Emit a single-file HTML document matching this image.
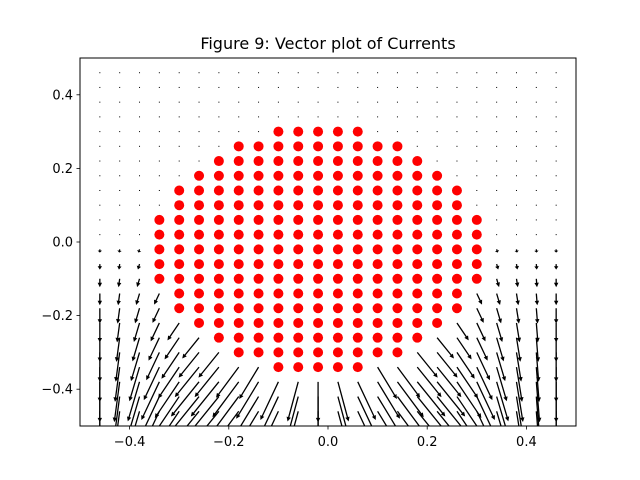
<!DOCTYPE html>
<html><head><meta charset="utf-8"><style>
body{margin:0;background:#fff}
svg{display:block;font-family:"DejaVu Sans","Liberation Sans",sans-serif}
</style></head><body>
<svg id="c" width="640" height="480">
<defs><clipPath id="clip"><rect x="80" y="58" width="496" height="368"/></clipPath></defs>
<rect x="0" y="0" width="640" height="480" fill="#fff"/>
<text x="328" y="49" text-anchor="middle" font-size="16">Figure 9: Vector plot of Currents</text>
<g id="arrows" clip-path="url(#clip)"></g>
<g id="dots"></g>
<rect x="80" y="58" width="496" height="368" fill="none" stroke="#000" stroke-width="1"/>
<g id="axes"></g>
</svg>
<script>
const gridX = [-0.46,-0.42,-0.38,-0.34,-0.30,-0.26,-0.22,-0.18,-0.14,-0.10,-0.06,-0.02,0.02,0.06,0.10,0.14,0.18,0.22,0.26,0.30,0.34,0.38,0.42,0.46];
const gridY = [-0.46,-0.42,-0.38,-0.34,-0.30,-0.26,-0.22,-0.18,-0.14,-0.10,-0.06,-0.02,0.02,0.06,0.10,0.14,0.18,0.22,0.26,0.30,0.34,0.38,0.42,0.46];
const colDir = [0,-0.1,-0.22,-0.35,-0.5,-0.6,-0.6,-0.55,-0.45,-0.35,-0.2,0,0.2,0.35,0.45,0.55,0.6,0.6,0.5,0.35,0.22,0.12,0.06,0];
const rowMag = [0.14,0.125,0.11,0.095,0.08,0.066,0.053,0.042,0.032,0.023,0.015,0.009,0.004,0.002,0.001,0.0008,0.0006,0.0005,0.0004,0.0003,0.0003,0.0003,0.0003,0.0003];
const dotRowY = [0.30,0.26,0.22,0.18,0.14,0.10,0.06,0.02,-0.02,-0.06,-0.10,-0.14,-0.18,-0.22,-0.26,-0.30,-0.34];
const dotRowXMin = [-0.10,-0.18,-0.22,-0.26,-0.30,-0.30,-0.34,-0.34,-0.34,-0.34,-0.34,-0.30,-0.30,-0.26,-0.22,-0.18,-0.10];
const dotRowXMax = [0.06,0.14,0.18,0.22,0.26,0.26,0.30,0.30,0.30,0.30,0.30,0.26,0.26,0.22,0.18,0.14,0.06];
const xTicks = [-0.4,-0.2,0.0,0.2,0.4];
const yTicks = [-0.4,-0.2,0.0,0.2,0.4];

const X = v => 328 + v*496;
const Y = v => 242 - v*368;
const NS = "http://www.w3.org/2000/svg";
function mk(t, a){const e=document.createElementNS(NS,t);for(const k in a)e.setAttribute(k,a[k]);return e;}
function isDot(x, y){
  for (let i=0;i<dotRowY.length;i++){
    if (Math.abs(dotRowY[i]-y)<1e-6 && x>=dotRowXMin[i]-1e-6 && x<=dotRowXMax[i]+1e-6) return true;
  }
  return false;
}

const ag = document.getElementById('arrows');
gridY.forEach((gy, r) => {
  gridX.forEach((gx, c) => {
    const m = isDot(gx, gy) ? 0 : rowMag[r];
    const d = colDir[c];
    const n = Math.sqrt(1 + d*d);
    const vx = m*d/n, vy = -m/n;
    const x0 = X(gx), y0 = Y(gy);
    const x1 = X(gx+vx), y1 = Y(gy+vy);
    const L = Math.hypot(x1-x0, y1-y0);
    let el;
    if (L < 2) {
      el = mk('rect', {x: x0-0.5, y: y0-0.5, width: 1, height: 1, fill: '#000'});
    } else {
      const ux = (x1-x0)/L, uy = (y1-y0)/L, px = -uy, py = ux;
      const hl = Math.min(4.5, L*0.6), hw = 2.2, sw = 0.65;
      const bx = x1-ux*hl, by = y1-uy*hl;
      const pts = [[x0+px*sw,y0+py*sw],[bx+px*sw,by+py*sw],[bx+px*hw,by+py*hw],[x1,y1],[bx-px*hw,by-py*hw],[bx-px*sw,by-py*sw],[x0-px*sw,y0-py*sw]];
      el = mk('polygon', {points: pts.map(p=>p[0].toFixed(2)+','+p[1].toFixed(2)).join(' '), fill: '#000'});
    }
    
    
    ag.appendChild(el);
  });
});

const dg = document.getElementById('dots');
dotRowY.forEach((y, i) => {
  for (let x = dotRowXMin[i]; x <= dotRowXMax[i] + 1e-9; x += 0.04) {
    const d = mk('circle', {cx: X(x), cy: Y(y), r: 5, fill: '#ff0000'});
    
    
    dg.appendChild(d);
  }
});

const ax = document.getElementById('axes');
xTicks.forEach(t => {
  const l = mk('line', {x1: X(t), x2: X(t), y1: 426, y2: 429.5, stroke: '#000', 'stroke-width': 0.8});
  
  
  ax.appendChild(l);
  const tx = mk('text', {x: X(t), y: 446, 'text-anchor': 'middle', 'font-size': 13});
  tx.textContent = (t < 0 ? '\u2212' : '') + Math.abs(t).toFixed(1);
  
  
  ax.appendChild(tx);
});
yTicks.forEach(t => {
  const l = mk('line', {x1: 76.5, x2: 80, y1: Y(t), y2: Y(t), stroke: '#000', 'stroke-width': 0.8});
  
  
  ax.appendChild(l);
  const tx = mk('text', {x: 73, y: Y(t)+4.5, 'text-anchor': 'end', 'font-size': 13});
  tx.textContent = (t < 0 ? '\u2212' : '') + Math.abs(t).toFixed(1);
  
  
  ax.appendChild(tx);
});
</script>
</body></html>
